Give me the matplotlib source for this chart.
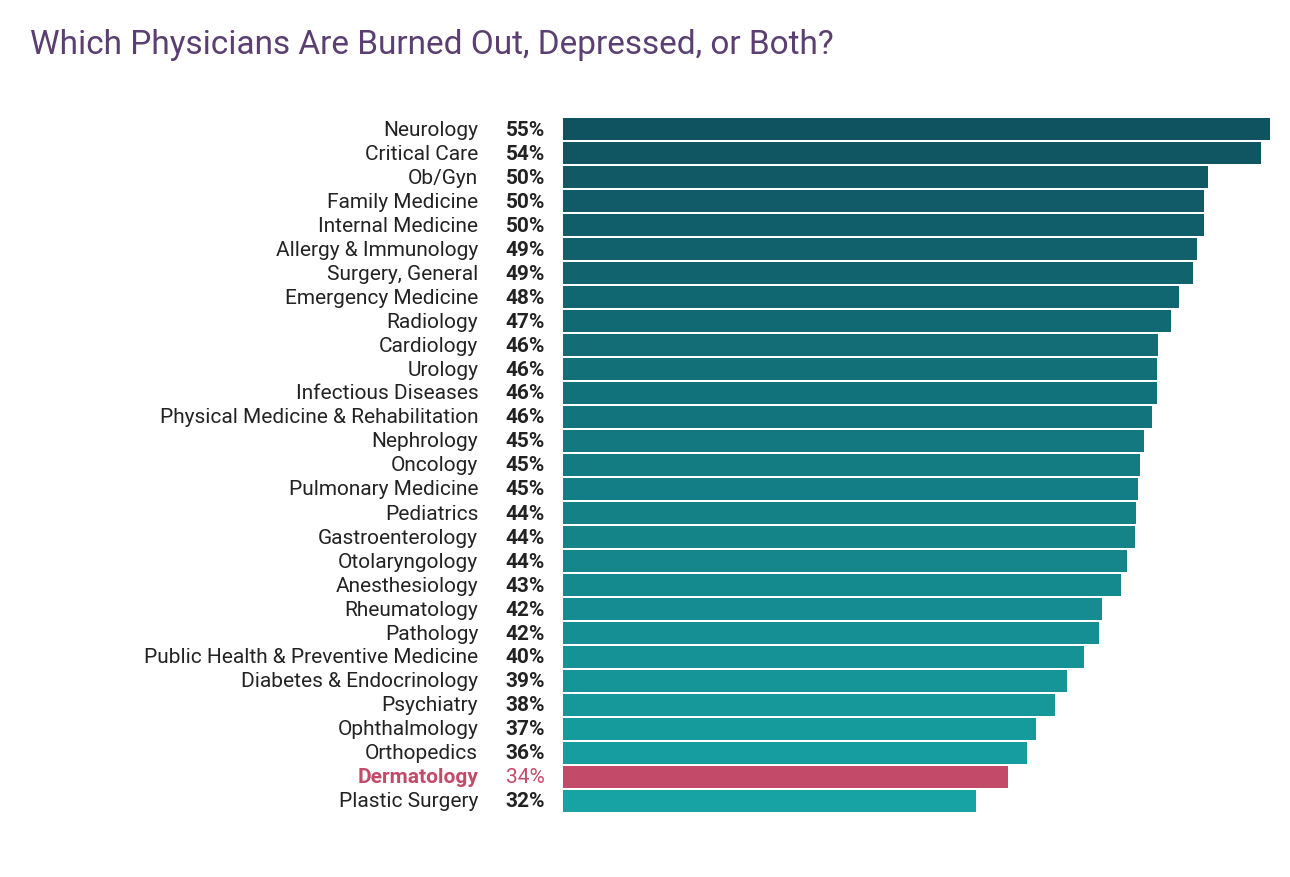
import numpy as np
import matplotlib.pyplot as plt
from matplotlib.colors import LinearSegmentedColormap

plt.rcParams["font.family"] = "Roboto"

specialties = ["Neurology", "Critical Care", "Ob/Gyn", "Family Medicine", "Internal Medicine",
               "Allergy & Immunology", "Surgery, General", "Emergency Medicine", "Radiology",
               "Cardiology", "Urology", "Infectious Diseases", "Physical Medicine & Rehabilitation",
               "Nephrology", "Oncology", "Pulmonary Medicine", "Pediatrics", "Gastroenterology",
               "Otolaryngology", "Anesthesiology", "Rheumatology", "Pathology",
               "Public Health & Preventive Medicine", "Diabetes & Endocrinology", "Psychiatry",
               "Ophthalmology", "Orthopedics", "Dermatology", "Plastic Surgery"]
# bar lengths (labels are rounded)
bar_vals = [55, 54.3, 50.2, 49.9, 49.9, 49.3, 49.0, 47.9, 47.3, 46.3, 46.2, 46.2, 45.8,
            45.2, 44.9, 44.7, 44.6, 44.5, 43.9, 43.4, 41.9, 41.7, 40.5, 39.2, 38.3,
            36.8, 36.1, 34.6, 32.1]
pct_labels = [55, 54, 50, 50, 50, 49, 49, 48, 47, 46, 46, 46, 46, 45, 45, 45, 44, 44, 44,
              43, 42, 42, 40, 39, 38, 37, 36, 34, 32]
highlight = "Dermatology"

W, H = 1290, 878
fig = plt.figure(figsize=(W / 100, H / 100), dpi=100)
ax = fig.add_axes([563 / W, 1 - 814 / H, 707 / W, 696 / H])

cmap = LinearSegmentedColormap.from_list("teal", ["#0f5360", "#17a3a4"])
n = len(specialties)
y = np.arange(n)
colors = [("#c34a68" if s == highlight else cmap(i / (n - 1))) for i, s in enumerate(specialties)]
ax.barh(y, bar_vals, height=0.9, color=colors)
ax.set_xlim(0, 55)
ax.set_ylim(n - 0.5, -0.5)
ax.axis("off")

for i, (s, p) in enumerate(zip(specialties, pct_labels)):
    hl = s == highlight
    c = "#c34a68" if hl else "#222222"
    ax.text(-6.6, i, s, ha="right", va="center", fontsize=15, color=c,
            fontweight="bold" if hl else "normal")
    ax.text(-1.4, i, f"{p}%", ha="right", va="center", fontsize=15, color=c,
            fontweight="bold" if not hl else "normal")

fig.text(30 / W, 1 - 45 / H, "Which Physicians Are Burned Out, Depressed, or Both?",
         fontsize=24, color="#5b3f72", ha="left", va="center", fontstretch="condensed")

fig.savefig("out.png", dpi=100)
